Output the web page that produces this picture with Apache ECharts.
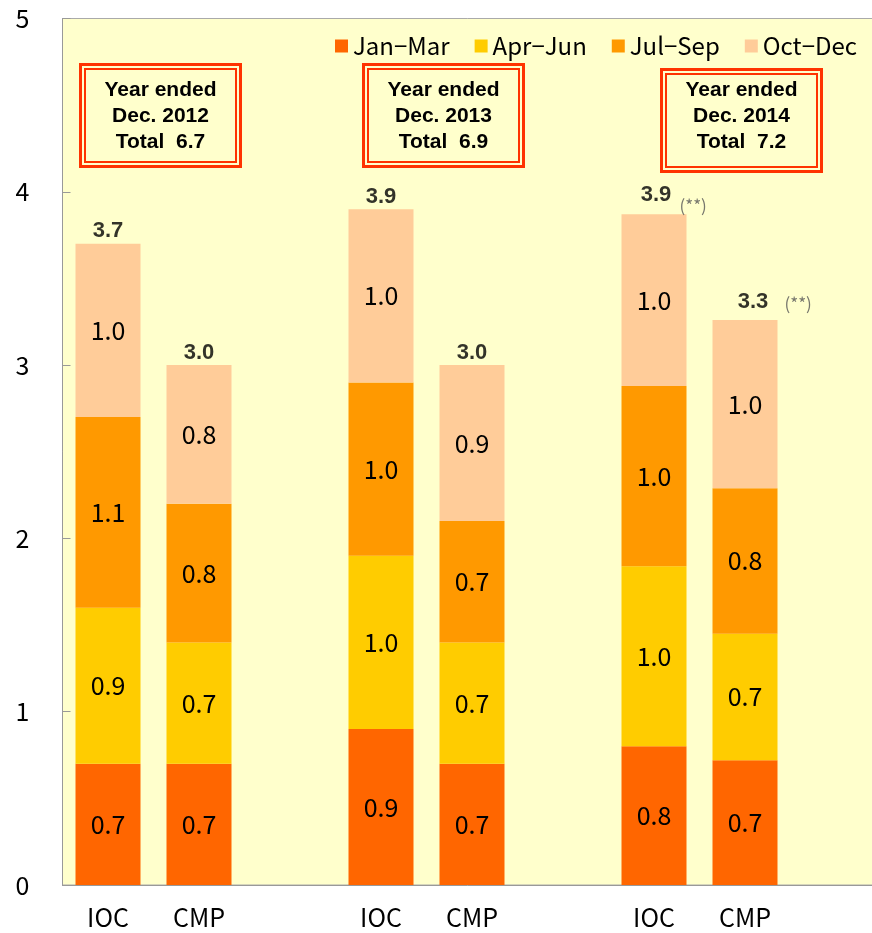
<!DOCTYPE html>
<html>
<head>
<meta charset="utf-8">
<script src="https://cdn.jsdelivr.net/npm/echarts@6/dist/echarts.min.js"></script>
<style>
  html, body { margin: 0; padding: 0; background: #ffffff; }
  #chart { width: 872px; height: 933px; }
</style>
</head>
<body>
<div id="chart"></div>
<script>
// Category slots: IOC / CMP pairs per year, with an empty slot between years
const categories = ['IOC', 'CMP', '', 'IOC', 'CMP', '', 'IOC', 'CMP', ''];

// Quarterly values (stacked)
const janMar = [0.70, 0.70, null, 0.90, 0.70, null, 0.80, 0.72, null];
const aprJun = [0.90, 0.70, null, 1.00, 0.70, null, 1.04, 0.73, null];
const julSep = [1.10, 0.80, null, 1.00, 0.70, null, 1.04, 0.84, null];
const octDec = [1.00, 0.80, null, 1.00, 0.90, null, 0.99, 0.97, null];

const quarterNames = ['Jan\u2212Mar', 'Apr\u2212Jun', 'Jul\u2212Sep', 'Oct\u2212Dec'];

// Year summary boxes
const yearLabels = ['Dec. 2012', 'Dec. 2013', 'Dec. 2014'];
const yearTotals = ['6.7', '6.9', '7.2'];

// Bars carrying a "(**)" note
const noteFlags = [false, false, false, false, false, false, true, true, false];

const colors = ['#FF6600', '#FFCC00', '#FF9900', '#FFCC99'];
const gothic = '"Noto Sans CJK JP", "Noto Sans", sans-serif';
const arial = '"Liberation Sans", Arial, sans-serif';

const quarterData = [janMar, aprJun, julSep, octDec];
const totals = categories.map((c, i) =>
  c === '' ? null : quarterData.reduce((s, arr) => s + arr[i], 0));

// per-bar nudges for the total labels
const totalOffsets = [[0, 0], [0, 0], [0, 0], [0, 0], [0, 0], [0, 0], [2, -7], [8, -6], [0, 0]];
const noteOffsets = { 6: [25, -9], 7: [39, -16] };

const chart = echarts.init(document.getElementById('chart'));

const barSeries = quarterNames.map((name, k) => ({
  name: name,
  type: 'bar',
  stack: 'q',
  barWidth: 65,
  data: quarterData[k],
  itemStyle: { color: colors[k] },
  label: {
    show: true,
    position: 'inside',
    fontFamily: gothic,
    fontSize: 25,
    color: '#000',
    formatter: p => (p.value == null ? '' : Number(p.value).toFixed(1))
  },
  emphasis: { disabled: true }
}));

const totalSeries = {
  name: 'total',
  type: 'scatter',
  symbolSize: 1,
  silent: true,
  z: 10,
  itemStyle: { color: 'rgba(0,0,0,0)' },
  data: totals.map((v, i) => v == null ? null : {
    value: v,
    label: { offset: totalOffsets[i] }
  }),
  label: {
    show: true,
    position: 'top',
    distance: 3,
    fontFamily: arial,
    fontWeight: 'bold',
    fontSize: 22,
    lineHeight: 18,
    color: '#000',
    formatter: p => Number(p.value).toFixed(1)
  }
};

const noteSeries = {
  name: 'note',
  type: 'scatter',
  symbolSize: 1,
  silent: true,
  z: 10,
  itemStyle: { color: 'rgba(0,0,0,0)' },
  data: totals.map((v, i) => (v == null || !noteFlags[i]) ? null : {
    value: v,
    label: { offset: noteOffsets[i] }
  }),
  label: {
    show: true,
    position: 'right',
    distance: 0,
    fontFamily: gothic,
    fontSize: 17,
    color: '#555',
    formatter: '(**)'
  }
};

// double-ruled year boxes
function yearBox(left, top, textMid, idx) {
  const w = 163, h = 105;
  return {
    type: 'group',
    children: [
      { type: 'rect', shape: { x: left + 1.5, y: top + 1.5, width: w - 3, height: h - 3 },
        style: { fill: 'none', stroke: '#FF3300', lineWidth: 3 } },
      { type: 'rect', shape: { x: left + 6, y: top + 6, width: w - 12, height: h - 12 },
        style: { fill: 'none', stroke: '#FF3300', lineWidth: 2 } },
      { type: 'text', x: left + w / 2, y: textMid,
        style: {
          text: 'Year ended\n' + yearLabels[idx] + '\nTotal  ' + yearTotals[idx],
          fontFamily: arial, fontWeight: 'bold', fontSize: 21, lineHeight: 26,
          fill: '#000', align: 'center', verticalAlign: 'middle'
        } }
    ]
  };
}

chart.setOption({
  animation: false,
  backgroundColor: '#ffffff',
  grid: {
    left: 62.5, width: 819, top: 18.5, bottom: 48,
    outerBoundsMode: 'none',
    containLabel: false,
    show: true, backgroundColor: '#FFFFCC', borderColor: '#aaaaaa', borderWidth: 1
  },
  legend: {
    data: quarterNames,
    right: 15,
    top: 34,
    padding: 0,
    itemGap: 25,
    itemWidth: 13,
    itemHeight: 13,
    icon: 'rect',
    textStyle: { fontFamily: gothic, fontSize: 24, color: '#000', lineHeight: 24 }
  },
  xAxis: {
    type: 'category',
    data: categories,
    axisLine: { lineStyle: { color: '#999999' } },
    axisTick: { show: false },
    axisLabel: { interval: 0, fontFamily: gothic, fontSize: 25, color: '#000', margin: 20 }
  },
  yAxis: {
    type: 'value',
    min: 0, max: 5, interval: 1,
    axisLine: { show: true, lineStyle: { color: '#999999' } },
    axisTick: { show: true, inside: true, length: 8, lineStyle: { color: '#999999' } },
    splitLine: { show: false },
    axisLabel: { fontFamily: gothic, fontSize: 25, color: '#000', margin: 33 }
  },
  series: [...barSeries, totalSeries, noteSeries],
  graphic: [
    yearBox(79, 63, 116, 0),
    yearBox(362, 63, 116, 1),
    yearBox(660, 68, 116, 2)
  ]
});
</script>
</body>
</html>
